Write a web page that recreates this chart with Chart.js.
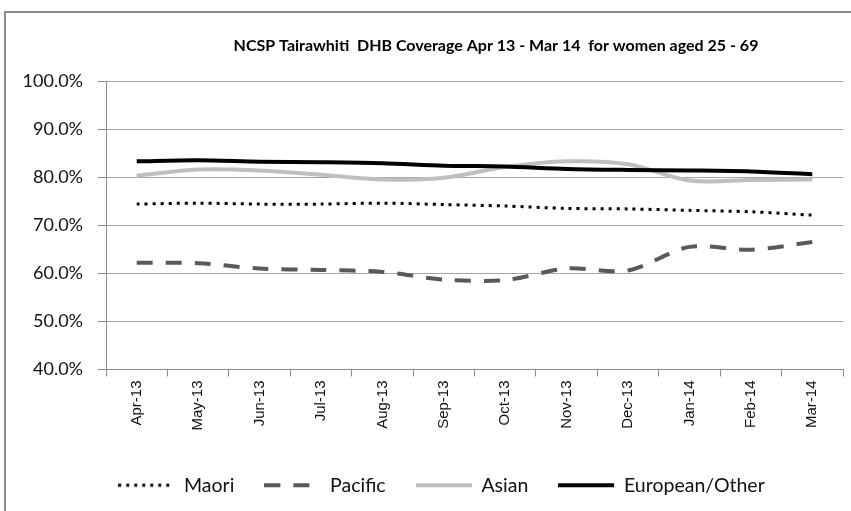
<!DOCTYPE html>
<html>
<head>
<meta charset="utf-8">
<script src="https://cdn.jsdelivr.net/npm/chart.js@4.4.1/dist/chart.umd.min.js"></script>
<style>
html, body { margin: 0; padding: 0; background: #fff; overflow: hidden; }
#frame {
  position: absolute; left: 4px; top: 11px; width: 847px; height: 500px;
  border-left: 2px solid #8c8c8c; border-top: 2px solid #8c8c8c;
}
</style>
</head>
<body>
<div id="frame"><canvas id="coverage"></canvas></div>
<script>
var titleText = "NCSP Tairawhiti  DHB Coverage Apr 13 - Mar 14  for women aged 25 - 69";
var months = ["Apr-13", "May-13", "Jun-13", "Jul-13", "Aug-13", "Sep-13", "Oct-13", "Nov-13", "Dec-13", "Jan-14", "Feb-14", "Mar-14"];
var maori = [74.4, 74.6, 74.4, 74.4, 74.6, 74.3, 74.0, 73.5, 73.4, 73.1, 72.8, 72.1];
var pacific = [62.2, 62.1, 61.0, 60.7, 60.3, 58.7, 58.6, 61.0, 60.6, 65.5, 64.9, 66.5];
var asian = [80.3, 81.6, 81.4, 80.5, 79.5, 79.9, 82.1, 83.3, 82.7, 79.3, 79.4, 79.5];
var european = [83.3, 83.5, 83.2, 83.1, 82.9, 82.4, 82.2, 81.7, 81.5, 81.4, 81.2, 80.6];

var labelFont = "Lato, 'Noto Sans', sans-serif";

// little line samples for the legend
function sample(color, width, dash) {
  var c = document.createElement("canvas");
  c.width = 56; c.height = 8;
  var g = c.getContext("2d");
  g.strokeStyle = color;
  g.lineWidth = width;
  g.setLineDash(dash);
  g.beginPath();
  g.moveTo(0, 4);
  g.lineTo(56, 4);
  g.stroke();
  return c;
}

// title sits a bit right of centre, legend too
var excelLook = {
  id: "excelLook",
  afterLayout: function (chart) {
    chart.legend.left += 17;
    chart.legend.right += 17;
  },
  afterDraw: function (chart) {
    var ctx = chart.ctx;
    ctx.save();
    ctx.font = "bold 16px " + labelFont;
    ctx.fillStyle = "#000";
    ctx.textAlign = "center";
    ctx.textBaseline = "middle";
    ctx.fillText(titleText, 490, 33);
    ctx.restore();
  }
};

new Chart("coverage", {
  type: "line",
  data: {
    labels: months,
    datasets: [{
      label: "Maori",
      data: maori,
      borderColor: "#000",
      borderWidth: 3,
      borderDash: [3, 5],
      pointStyle: sample("#000", 3, [3, 5]),
      order: 3
    }, {
      label: "Pacific",
      data: pacific,
      borderColor: "#595959",
      borderWidth: 4,
      borderDash: [16, 13],
      pointStyle: sample("#595959", 4, [16, 13]),
      order: 2
    }, {
      label: "Asian",
      data: asian,
      borderColor: "#bfbfbf",
      borderWidth: 4,
      pointStyle: sample("#bfbfbf", 4, []),
      order: 1
    }, {
      label: "European/Other",
      data: european,
      borderColor: "#000",
      borderWidth: 4,
      pointStyle: sample("#000", 4, []),
      order: 0
    }]
  },
  options: {
    responsive: true,
    maintainAspectRatio: false,
    animation: false,
    events: [],
    layout: { padding: { top: 68, right: 10, left: 0, bottom: 8 } },
    elements: {
      line: { tension: 0.3, fill: false },
      point: { radius: 0, hoverRadius: 0 }
    },
    scales: {
      x: {
        offset: true,
        afterFit: function (s) { s.height = 76; s.paddingLeft = 0; s.paddingRight = 0; },
        grid: {
          offset: true,
          color: function (c) { return c.index === months.length ? "#8c8c8c" : "rgba(0,0,0,0)"; },
          tickColor: "#8c8c8c",
          tickLength: 7
        },
        border: { display: true, color: "#8c8c8c" },
        ticks: {
          autoSkip: false,
          minRotation: 90,
          maxRotation: 90,
          padding: 4,
          color: "#111",
          font: { family: "'Liberation Sans', Arial, sans-serif", size: 15 }
        }
      },
      y: {
        min: 40,
        max: 100,
        afterFit: function (s) { s.width = 100; },
        grid: { color: "#a6a6a6", tickColor: "#8c8c8c", tickLength: 8 },
        border: { display: true, color: "#8c8c8c" },
        ticks: {
          stepSize: 10,
          padding: 15,
          color: "#111",
          font: { family: labelFont, size: 18 },
          callback: function (v) { return v.toFixed(1) + "%"; }
        }
      }
    },
    plugins: {
      title: { display: false },
      tooltip: { enabled: false },
      legend: {
        position: "bottom",
        labels: {
          usePointStyle: true,
          pointStyleWidth: 56,
          padding: 30,
          color: "#111",
          font: { family: labelFont, size: 19.5 },
          sort: function (a, b) { return a.datasetIndex - b.datasetIndex; }
        }
      }
    }
  },
  plugins: [excelLook]
});
</script>
</body>
</html>
